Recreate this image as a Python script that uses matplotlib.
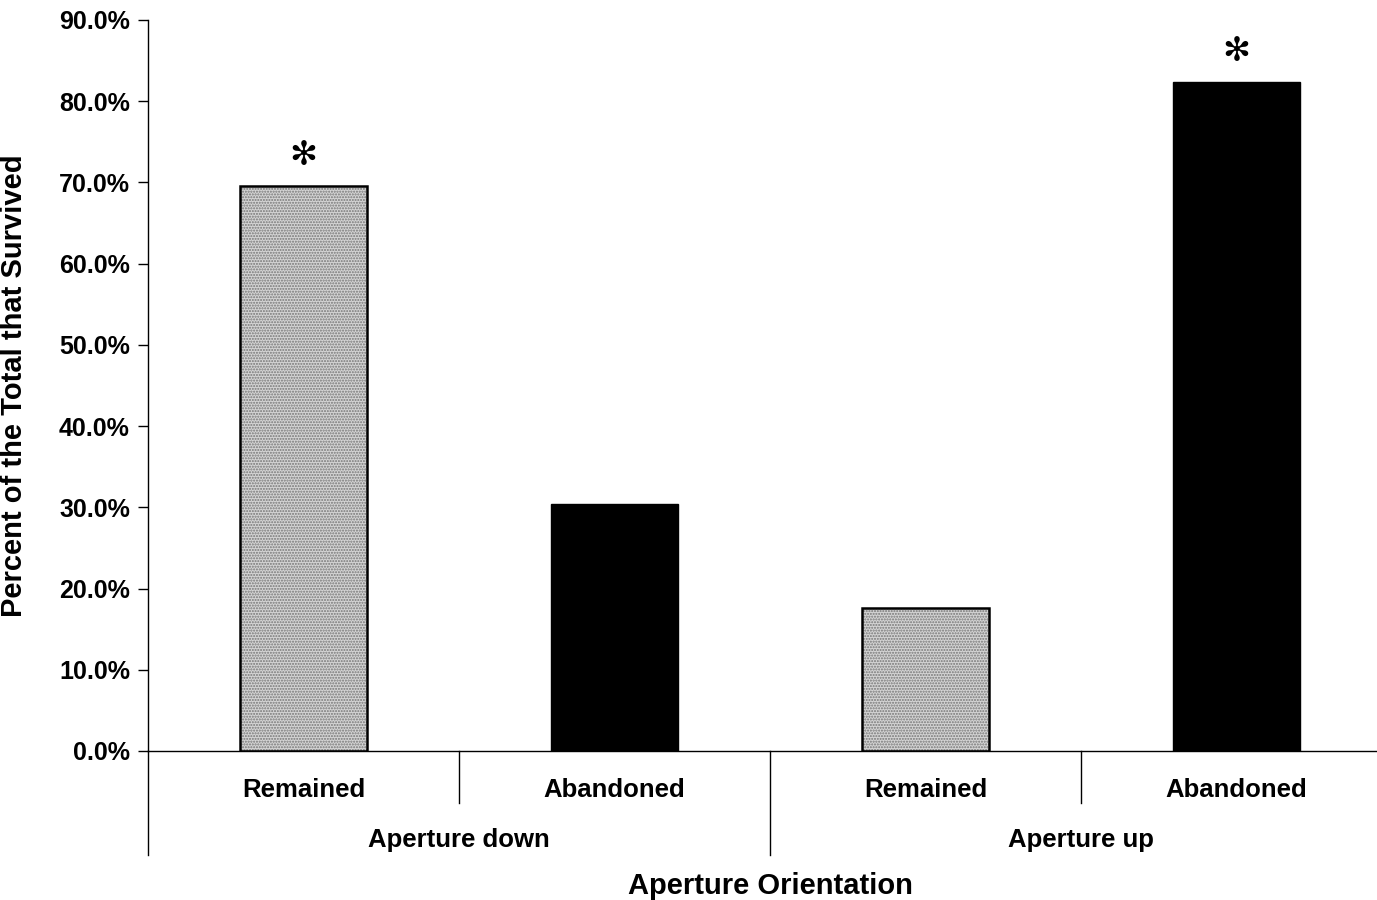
import matplotlib

matplotlib.use("Agg")
import matplotlib.pyplot as plt  # noqa: E402
from matplotlib.ticker import FuncFormatter  # noqa: E402

orientations = ["Aperture down", "Aperture up"]
responses = ["Remained", "Abandoned", "Remained", "Abandoned"]
percent_survived = [0.696, 0.304, 0.176, 0.824]
significant = [True, False, False, True]

plt.rcParams["font.family"] = ["Liberation Sans", "DejaVu Sans"]
plt.rcParams["font.weight"] = "bold"
plt.rcParams["hatch.color"] = "#767676"
plt.rcParams["hatch.linewidth"] = 1.0

fig = plt.figure(figsize=(13.77, 9.0), dpi=100)
ax = fig.add_axes([148 / 1377, 1 - 751 / 900, 1 - 148 / 1377, (751 - 20) / 900])

positions = list(range(len(responses)))
stippled = [i for i, r in enumerate(responses) if r == "Remained"]
solid = [i for i, r in enumerate(responses) if r == "Abandoned"]
bar_width = 0.41

# stippled grey fill, then a separate black outline on top
ax.bar(
    [positions[i] for i in stippled],
    [percent_survived[i] for i in stippled],
    width=bar_width,
    color="#d4d4d4",
    hatch="......",
    edgecolor="#767676",
    linewidth=0,
    zorder=2,
)
ax.bar(
    [positions[i] for i in stippled],
    [percent_survived[i] for i in stippled],
    width=bar_width,
    fill=False,
    edgecolor="black",
    linewidth=1.8,
    zorder=3,
)
ax.bar(
    [positions[i] for i in solid],
    [percent_survived[i] for i in solid],
    width=bar_width,
    color="black",
    edgecolor="black",
    linewidth=1.0,
    zorder=3,
)

for pos, value, flag in zip(positions, percent_survived, significant):
    if flag:
        ax.text(pos, value + 0.037, "\u273b", ha="center", va="center",
                fontsize=24, fontweight="normal", family="DejaVu Sans")

ax.set_xlim(-0.5, (1377 - 148) / 311 - 0.5)
ax.set_ylim(0, 0.9)
ax.set_yticks([i / 10 for i in range(10)])
ax.yaxis.set_major_formatter(FuncFormatter(lambda v, _: f"{v * 100:.1f}%"))
ax.tick_params(axis="y", direction="out", length=7, width=1.0, labelsize=18, pad=6)
ax.set_xticks([])
for side in ("top", "right"):
    ax.spines[side].set_visible(False)
ax.spines["left"].set_linewidth(1.0)
ax.spines["bottom"].set_linewidth(1.0)

ax.set_ylabel("Percent of the Total that Survived", fontsize=21, fontweight="bold")
ax.yaxis.set_label_coords(-0.098, 0.5)

xtrans = ax.get_xaxis_transform()
for pos, label in zip(positions, responses):
    ax.text(pos, -0.053, label, transform=xtrans, ha="center", va="center",
            fontsize=18.5, fontweight="bold")

for k, group in enumerate(orientations):
    center = 2 * k + 0.5
    ax.text(center, -0.122, group, transform=xtrans, ha="center", va="center",
            fontsize=18.5, fontweight="bold")
    ax.plot([2 * k - 0.5] * 2, [0, -0.1423], transform=xtrans, color="black",
            linewidth=1.0, clip_on=False)
    ax.plot([2 * k + 0.5] * 2, [0, -0.0711], transform=xtrans, color="black",
            linewidth=1.0, clip_on=False)

ax.text(1.5, -0.185, "Aperture Orientation", transform=xtrans, ha="center",
        va="center", fontsize=21, fontweight="bold")

fig.savefig("out.png", dpi=100, facecolor="white")
